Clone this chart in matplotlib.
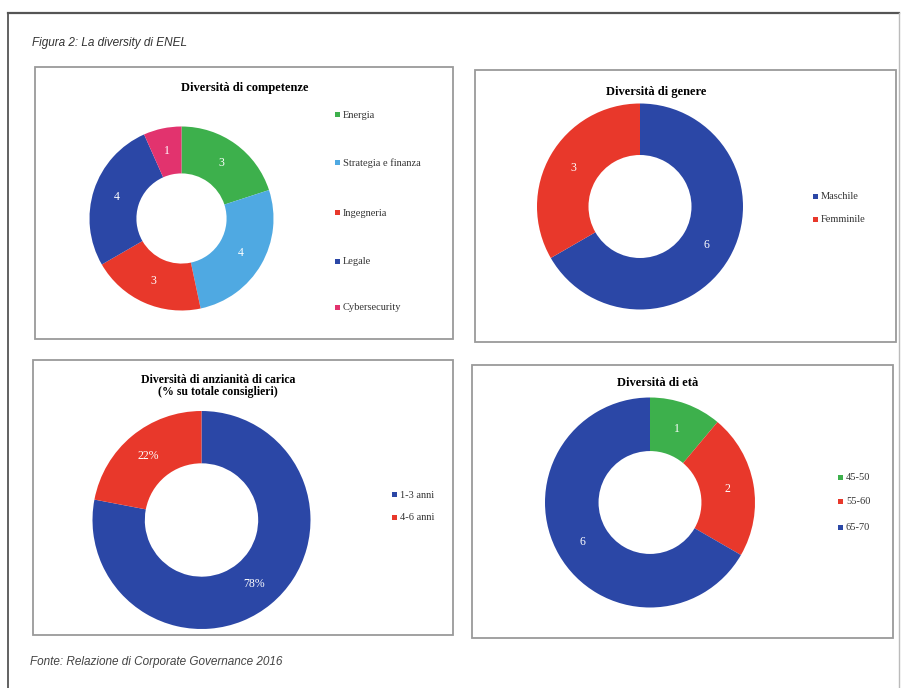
import matplotlib
matplotlib.use("Agg")
import numpy as np
import matplotlib.pyplot as plt
from matplotlib.patches import Rectangle
from matplotlib.lines import Line2D

# ---- data ----
comp_labels = ["Energia", "Strategia e finanza", "Ingegneria", "Legale", "Cybersecurity"]
comp_values = [3, 4, 3, 4, 1]

gender_labels = ["Maschile", "Femminile"]
gender_values = [6, 3]

tenure_labels = ["1-3 anni", "4-6 anni"]
tenure_values = [78, 22]

age_labels = ["45-50", "55-60", "65-70"]
age_values = [1, 2, 6]

# ---- colours ----
BLUE = "#2b47a6"
RED = "#e8382b"
GREEN = "#3db04c"
LBLUE = "#4fa9e2"
PINK = "#e2336e"

W, H = 904, 688
fig = plt.figure(figsize=(W / 100, H / 100), dpi=100)
fig.patch.set_facecolor("white")

SERIF = ["Liberation Serif", "DejaVu Serif"]
SANS = ["Liberation Sans Narrow", "Liberation Sans", "DejaVu Sans"]


def fx(x):
    return x / W


def fy(y):
    return 1 - y / H


def box(x0, y0, x1, y1, color="#9a9a9a", lw=1.3):
    fig.add_artist(Rectangle((fx(x0), fy(y1)), fx(x1) - fx(x0), fy(y0) - fy(y1),
                             transform=fig.transFigure, fill=False,
                             edgecolor=color, linewidth=lw))


def donut(cx, cy, r, hole, values, colors, labels_txt):
    ax = fig.add_axes([fx(cx - r), fy(cy + r), 2 * r / W, 2 * r / H])
    width = 1 - hole
    ax.pie(values, colors=colors, startangle=90, counterclock=False,
           radius=1, wedgeprops=dict(width=width, linewidth=0))
    total = sum(values)
    ang = 90.0
    for v, t in zip(values, labels_txt):
        mid = ang - 360.0 * v / total / 2
        ang -= 360.0 * v / total
        d = 1 - width / 2
        ax.text(d * np.cos(np.radians(mid)), d * np.sin(np.radians(mid)), t,
                ha="center", va="center", color="white", fontsize=8.5,
                family=SERIF)
    ax.set_xlim(-1, 1)
    ax.set_ylim(-1, 1)
    ax.set_aspect("equal")
    ax.axis("off")
    return ax


def legend(x, ys, labels, colors, size=7.5):
    for y, lab, c in zip(ys, labels, colors):
        fig.add_artist(Rectangle((fx(x), fy(y + 2)), 5 / W, 5 / H,
                                 transform=fig.transFigure, facecolor=c,
                                 edgecolor="none"))
        fig.text(fx(x + 8), fy(y), lab, ha="left", va="center",
                 fontsize=size, family=SERIF, color="#333333")


# outer frame
fig.add_artist(Line2D([fx(8), fx(899)], [fy(13), fy(13)], transform=fig.transFigure,
                      color="#555555", lw=1.6))
fig.add_artist(Line2D([fx(8), fx(8)], [fy(13), fy(688)], transform=fig.transFigure,
                      color="#555555", lw=1.3))
fig.add_artist(Line2D([fx(899), fx(899)], [fy(13), fy(688)], transform=fig.transFigure,
                      color="#bbbbbb", lw=1.0))

fig.text(fx(32), fy(43), "Figura 2: La diversity di ENEL", ha="left", va="center",
         fontsize=8.5, style="italic", family=SANS, color="#333333")
fig.text(fx(30), fy(662), "Fonte: Relazione di Corporate Governance 2016", ha="left",
         va="center", fontsize=8.5, style="italic", family=SANS, color="#444444")

# panel frames
box(35, 67, 453, 339)
box(475, 70, 896, 342)
box(33, 360, 453, 635)
box(472, 365, 893, 638)

# panel 1: competences
fig.text(fx(245), fy(88), "Diversità di competenze", ha="center", va="center",
         fontsize=9, fontweight="bold", family=SERIF)
c1 = [GREEN, LBLUE, RED, BLUE, PINK]
donut(181.5, 218.5, 92, 0.49, comp_values, c1, [str(v) for v in comp_values])
legend(335, [115, 163, 213, 262, 308], comp_labels, c1)

# panel 2: gender
fig.text(fx(656), fy(92), "Diversità di genere", ha="center", va="center",
         fontsize=9, fontweight="bold", family=SERIF)
c2 = [BLUE, RED]
donut(640, 206.5, 103, 0.5, gender_values, c2, [str(v) for v in gender_values])
legend(813, [197, 220], gender_labels, c2)

# panel 3: tenure
fig.text(fx(218), fy(386), "Diversità di anzianità di carica\n(% su totale consiglieri)",
         ha="center", va="center", fontsize=8.5, fontweight="bold", family=SERIF,
         linespacing=1.0)
c3 = [BLUE, RED]
donut(201.5, 520, 109, 0.52, tenure_values, c3, [f"{v}%" for v in tenure_values])
legend(392, [495, 518], tenure_labels, c3)

# panel 4: age
fig.text(fx(658), fy(383), "Diversità di età", ha="center", va="center",
         fontsize=9, fontweight="bold", family=SERIF)
c4 = [GREEN, RED, BLUE]
donut(650, 502.5, 105, 0.49, age_values, c4, [str(v) for v in age_values])
legend(838, [478, 502, 528], age_labels, c4)

fig.savefig("out.png", dpi=100, facecolor="white")
